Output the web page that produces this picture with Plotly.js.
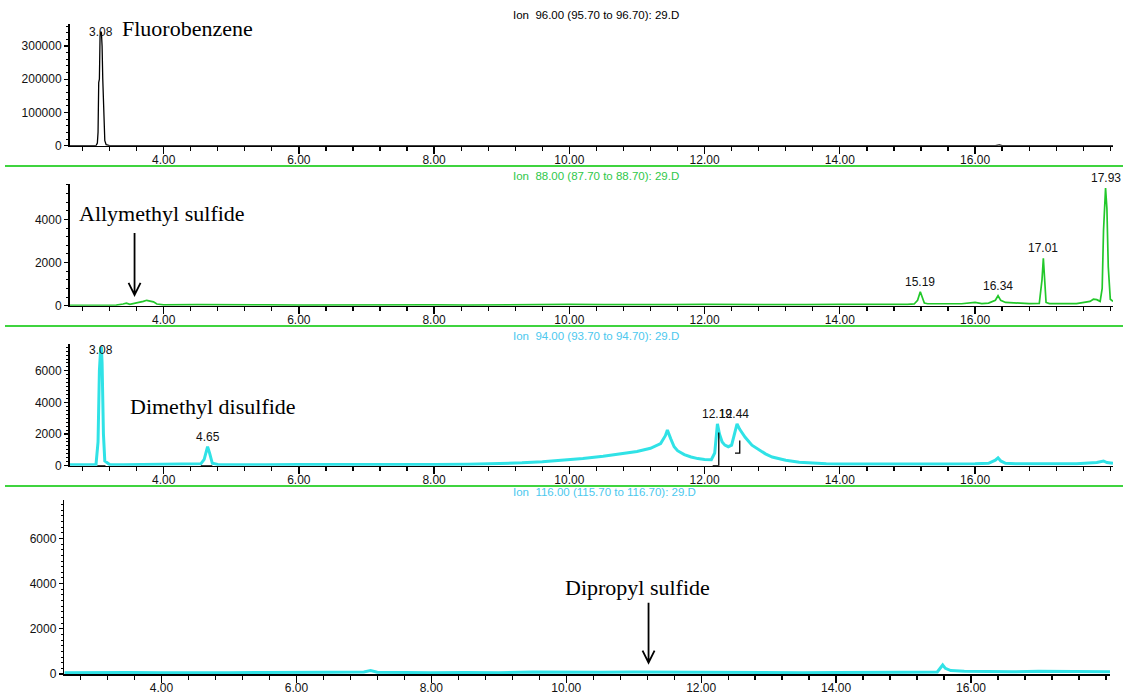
<!DOCTYPE html>
<html><head><meta charset="utf-8">
<script src="https://cdn.plot.ly/plotly-3.0.1.min.js"></script>
<style>html,body{margin:0;padding:0;background:#fff;}#chart{width:1123px;height:695px;}</style>
</head><body><div id="chart"></div>
<script>
// ---------- data (retention time in min, abundance) ----------
// Panel 1: Ion 96 (Fluorobenzene)
const rt1 = [2.60, 3.00, 3.02, 3.03, 3.04, 3.05, 3.06, 3.07, 3.08, 3.09, 3.10, 3.11, 3.12, 3.13, 3.15, 3.20, 16.30, 16.34, 16.36, 16.40, 18.04];
const ab1 = [0, 0, 8000, 40000, 190000, 200000, 330000, 343000, 340000, 300000, 200000, 120000, 60000, 15000, 3000, 0, 0, 3000, 2500, 0, 0];

// Panel 2: Ion 88 (Allylmethyl sulfide)
const rt2 = [2.60, 2.9, 3.1, 3.3, 3.4, 3.45, 3.5, 3.55, 3.6, 3.7, 3.75, 3.8, 3.85, 3.9, 4.0, 4.5, 5.0, 5.5, 6.0, 6.5, 7.0, 7.5, 8.0, 8.5, 9.0, 9.5, 10.0, 10.5, 11.0, 11.5, 12.0, 12.5, 13.0, 13.5, 14.0, 14.5, 15.0, 15.1, 15.15, 15.19, 15.22, 15.25, 15.3, 15.5, 15.8, 16.0, 16.05, 16.1, 16.2, 16.3, 16.34, 16.38, 16.45, 16.6, 16.8, 16.95, 16.99, 17.01, 17.03, 17.05, 17.1, 17.3, 17.5, 17.7, 17.75, 17.8, 17.85, 17.88, 17.9, 17.93, 17.95, 17.97, 18.0, 18.04];
const ab2 = [20, 30, 40, 30, 80, 120, 60, 90, 150, 200, 250, 220, 180, 80, 40, 50, 30, 40, 30, 40, 30, 50, 40, 30, 50, 40, 60, 50, 40, 50, 60, 50, 40, 50, 60, 50, 60, 80, 250, 650, 350, 120, 90, 80, 90, 150, 120, 100, 120, 250, 460, 250, 150, 120, 100, 110, 1200, 2200, 1000, 150, 100, 90, 100, 200, 300, 280, 200, 800, 3500, 5450, 4500, 1800, 300, 200];

// Panel 3: Ion 94 (Dimethyl disulfide)
const rt3 = [2.60, 2.8, 3.0, 3.03, 3.05, 3.07, 3.08, 3.09, 3.11, 3.13, 3.2, 3.4, 3.6, 3.8, 4.0, 4.2, 4.4, 4.55, 4.6, 4.63, 4.65, 4.68, 4.72, 4.8, 5.0, 5.5, 6.0, 6.5, 7.0, 7.5, 8.0, 8.5, 9.0, 9.3, 9.6, 9.9, 10.2, 10.5, 10.8, 11.0, 11.2, 11.35, 11.42, 11.45, 11.5, 11.55, 11.6, 11.7, 11.8, 11.9, 12.0, 12.1, 12.15, 12.19, 12.22, 12.26, 12.3, 12.35, 12.4, 12.44, 12.48, 12.52, 12.6, 12.7, 12.8, 12.9, 13.0, 13.2, 13.4, 13.6, 13.8, 14.0, 14.5, 15.0, 15.5, 16.0, 16.2, 16.3, 16.34, 16.38, 16.45, 16.6, 17.0, 17.5, 17.8, 17.9, 17.95, 18.04];
const ab3 = [60, 50, 80, 1500, 6000, 7500, 7450, 6500, 2000, 300, 80, 60, 70, 50, 70, 60, 80, 120, 400, 1000, 1200, 800, 150, 80, 70, 60, 80, 70, 60, 80, 70, 90, 120, 180, 250, 330, 450, 600, 780, 900, 1100, 1400, 1900, 2250, 1700, 1200, 950, 700, 550, 450, 400, 380, 800, 2650, 2000, 1500, 1300, 1200, 1300, 2000, 2650, 2300, 1800, 1300, 1000, 750, 550, 350, 220, 150, 120, 100, 90, 80, 100, 120, 150, 350, 500, 300, 150, 130, 120, 130, 200, 300, 200, 150];
// integration baselines (black) in panel 3
const rtInt3 = [3.02, 3.14, null, 4.55, 4.72, null, 12.12, 12.21, 12.21, null, 12.45, 12.52, 12.52];
const abInt3 = [0, 0, null, 0, 0, null, 0, 0, 2100, null, 800, 800, 1600];

// Panel 4: Ion 116 (Dipropyl sulfide)
const rt4 = [2.56, 3.0, 3.5, 4.0, 4.5, 5.0, 5.5, 6.0, 6.5, 7.0, 7.1, 7.2, 7.5, 8.0, 8.5, 9.0, 9.5, 10.0, 10.5, 11.0, 11.5, 12.0, 12.5, 13.0, 13.5, 14.0, 14.5, 15.0, 15.5, 15.58, 15.62, 15.7, 15.9, 16.2, 16.6, 17.0, 17.5, 18.06];
const ab4 = [60, 50, 70, 60, 50, 60, 70, 60, 80, 90, 150, 80, 70, 60, 70, 60, 90, 70, 80, 90, 80, 70, 80, 70, 60, 70, 60, 80, 90, 400, 250, 150, 120, 110, 100, 120, 110, 100];

// peak labels (retention time, apex abundance)
const pk1RT = [3.08], pk1H = [343000];
const pk2RT = [15.19, 16.34, 17.01, 17.93], pk2H = [650, 460, 2200, 5450];
const pk3RT = [3.08, 4.65, 12.19, 12.44], pk3H = [7300, 1200, 2650, 2650];

// tick labels / ion headers / compound names
const xTickVals = [4, 6, 8, 10, 12, 14, 16];
const ionHeaders = ['Ion  96.00 (95.70 to 96.70): 29.D', 'Ion  88.00 (87.70 to 88.70): 29.D', 'Ion  94.00 (93.70 to 94.70): 29.D', 'Ion  116.00 (115.70 to 116.70): 29.D'];
const compounds = ['Fluorobenzene', 'Allymethyl sulfide', 'Dimethyl disulfide', 'Dipropyl sulfide'];

// ---------- styling ----------
const W = 1123, H = 695;
const GREEN = '#22c82a', CYAN = '#30e2e6', SEP = '#3fd43f';
const tickFont = {family: 'Arial, "Liberation Sans", sans-serif', size: 12, color: '#111'};
const serif = {family: '"Liberation Serif", "Times New Roman", serif', size: 22, color: '#000'};
const px = v => v / W, py = v => 1 - v / H;

function xax(d0, d1, r0, r1, anchor) {
  return {domain: [px(d0), px(d1)], range: [r0, r1], anchor: anchor, showgrid: false, zeroline: false,
    showline: true, linecolor: '#000', linewidth: 1.5, ticks: 'outside', ticklen: 7, tickwidth: 1.3, tickcolor: '#000',
    tickvals: xTickVals, tickformat: '.2f', tickfont: tickFont, ticklabelstandoff: -5,
    minor: {dtick: 0.4, tick0: 0, ticks: 'outside', ticklen: 4, tickwidth: 1.3, tickcolor: '#000', showgrid: false}};
}
function yax(top, bot, rmax, dtick, mdt, anchor) {
  return {domain: [py(bot), py(top)], range: [0, rmax], anchor: anchor, showgrid: false, zeroline: false,
    showline: true, linecolor: '#000', linewidth: 1.5, ticks: 'outside', ticklen: 4, tickwidth: 1.2, tickcolor: '#000',
    dtick: dtick, tickformat: 'd', tickfont: tickFont,
    minor: {dtick: mdt, ticks: 'outside', ticklen: 2, tickwidth: 1, tickcolor: '#000', showgrid: false}};
}

const traces = [
  {x: rt1, y: ab1, xaxis: 'x', yaxis: 'y', mode: 'lines', line: {color: '#000', width: 1.3}},
  {x: rt2, y: ab2, xaxis: 'x2', yaxis: 'y2', mode: 'lines', line: {color: GREEN, width: 1.7}},
  {x: rt3, y: ab3, xaxis: 'x3', yaxis: 'y3', mode: 'lines', line: {color: CYAN, width: 3}},
  {x: rtInt3, y: abInt3, xaxis: 'x3', yaxis: 'y3', mode: 'lines', line: {color: '#000', width: 1.3}, connectgaps: false},
  {x: rt4, y: ab4, xaxis: 'x4', yaxis: 'y4', mode: 'lines', line: {color: CYAN, width: 3}}
];

const ann = [];
function pkLabels(rts, hs, ax, anchor, shift) {
  rts.forEach((t, i) => ann.push({x: t, y: hs[i], xref: ax[0], yref: ax[1], text: t.toFixed(2), showarrow: false,
    xanchor: 'center', yanchor: anchor, yshift: shift, font: tickFont}));
}
pkLabels(pk1RT, pk1H, ['x', 'y'], 'middle', 0);
pkLabels(pk2RT, pk2H, ['x2', 'y2'], 'bottom', 1);
pkLabels(pk3RT.slice(0, 1), pk3H.slice(0, 1), ['x3', 'y3'], 'middle', 0);
pkLabels(pk3RT.slice(1), pk3H.slice(1), ['x3', 'y3'], 'bottom', 1);

const ionColors = ['#000', '#2fc84a', '#4cc8ee', '#4cc8ee'];
const ionY = [15, 176, 336, 492];
ionHeaders.forEach((t, i) => ann.push({xref: 'paper', yref: 'paper', x: px(511), y: py(ionY[i]), text: t, showarrow: false,
  xanchor: 'left', yanchor: 'middle', font: {family: 'Arial, "Liberation Sans", sans-serif', size: 11.5, color: ionColors[i]}}));

const nameX = [120, 77, 128, 563], nameY = [28, 214, 406, 587];
compounds.forEach((t, i) => ann.push({xref: 'paper', yref: 'paper', x: px(nameX[i]), y: py(nameY[i]), text: t, showarrow: false,
  xanchor: 'left', yanchor: 'middle', font: serif}));

const shapes = [166, 326, 486].map(v => ({type: 'line', xref: 'paper', yref: 'paper', x0: px(5), x1: 1, y0: py(v), y1: py(v),
  line: {color: SEP, width: 2}}));
// arrows (tip at the analyte's expected retention time)
shapes.push({type: 'path', xref: 'x2', yref: 'y2', xsizemode: 'pixel', ysizemode: 'pixel', xanchor: 3.57, yanchor: 500,
  path: 'M0,0 L0,62 M-6,12 L0,0 L6,12', line: {color: '#000', width: 1.8}});
shapes.push({type: 'path', xref: 'x4', yref: 'y4', xsizemode: 'pixel', ysizemode: 'pixel', xanchor: 11.22, yanchor: 500,
  path: 'M0,0 L0,60 M-6,12 L0,0 L6,12', line: {color: '#000', width: 1.8}});

const layout = {
  width: W, height: H, margin: {l: 0, r: 0, t: 0, b: 0}, showlegend: false,
  paper_bgcolor: '#fff', plot_bgcolor: 'rgba(0,0,0,0)',
  xaxis: xax(69.5, 1113, 2.608, 18.04, 'y'),
  yaxis: yax(24, 145.7, 366000, 100000, 20000, 'x'),
  xaxis2: xax(69.5, 1113, 2.608, 18.04, 'y2'),
  yaxis2: yax(184, 305.7, 5640, 2000, 400, 'x2'),
  xaxis3: xax(69.5, 1113, 2.608, 18.04, 'y3'),
  yaxis3: yax(344.3, 465.7, 7680, 2000, 250, 'x3'),
  xaxis4: xax(64.3, 1110, 2.56, 18.06, 'y4'),
  yaxis4: yax(500, 674, 7700, 2000, 250, 'x4'),
  annotations: ann, shapes: shapes
};
Plotly.newPlot('chart', traces, layout, {displayModeBar: false, staticPlot: true});
</script></body></html>
